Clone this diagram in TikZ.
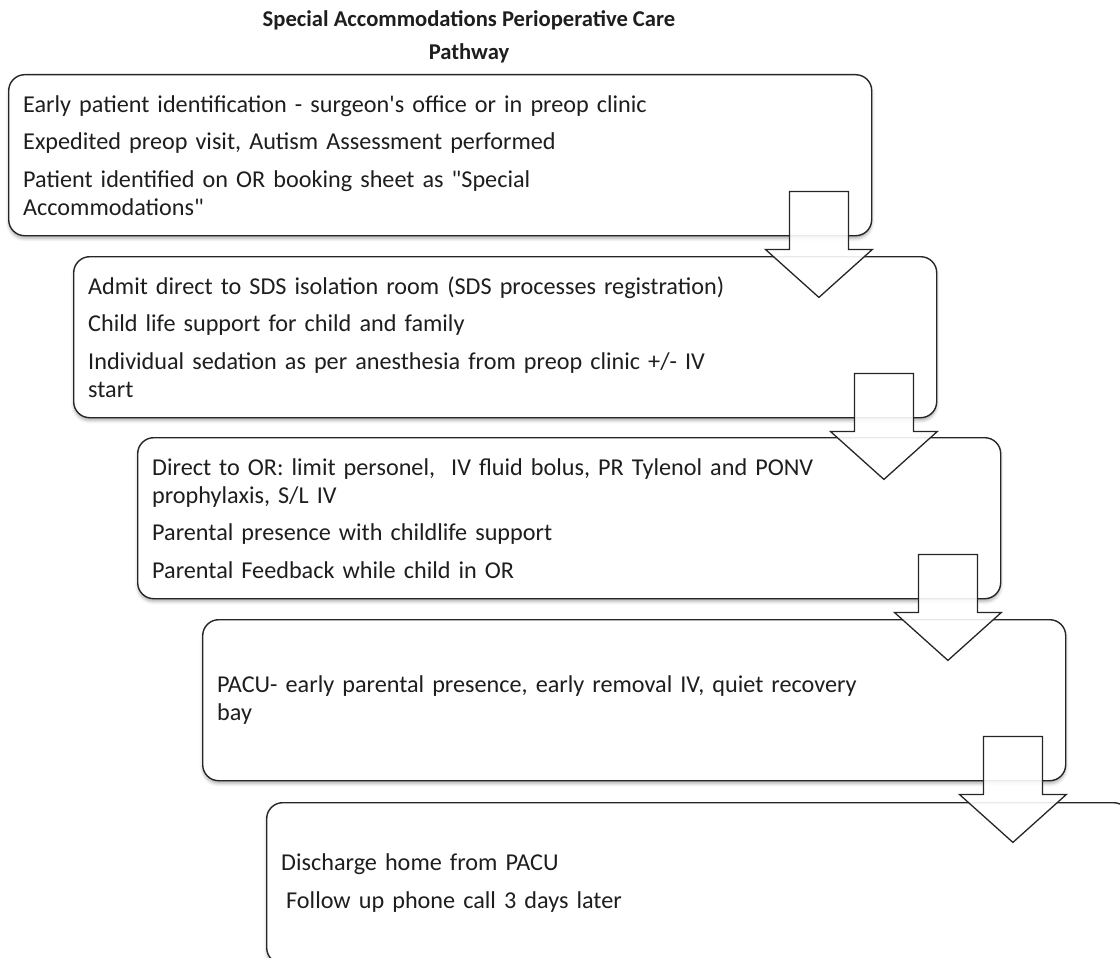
\documentclass[tikz,border=0pt]{standalone}
\usepackage{fontspec}
\setmainfont{Carlito}
\usepackage{tikz}
\usetikzlibrary{positioning, calc, shadows.blur}
\definecolor{boxline}{HTML}{262626}
\definecolor{inktext}{HTML}{1E1E1E}
\newcommand{\straightdq}{\XeTeXglyph\XeTeXcharglyph"22\relax}
\newcommand{\straightsq}{\XeTeXglyph\XeTeXcharglyph"27\relax}

\begin{document}
\begin{tikzpicture}[x=1pt, y=-1pt,
  stagebox/.style={draw=boxline, line width=1.4pt, rounded corners=16pt, fill=white,
    anchor=north west, minimum height=161pt, text width=834pt, inner xsep=14.5pt,
    align=left, text=inktext, font=\fontsize{24.2}{28}\selectfont,
    blur shadow={shadow xshift=0pt, shadow yshift=-3pt, shadow blur radius=3pt, shadow opacity=30}},
  flowarrow/.style={draw=boxline, line width=1.3pt, fill=white, fill opacity=0.9, line join=miter},
  titletext/.style={anchor=base, text=inktext, font=\fontsize{22.6}{33}\selectfont\bfseries}]

  % page
  \clip (0,0) rectangle (1120,958);

  % Title
  \node[titletext] (title) at (469,27) {Special Accommodations Perioperative Care};
  \node[titletext] (titletwo) at ($(title.base)+(0,33)$) {Pathway};

  % Pathway stages
  \node[stagebox] (b1) at (8,74) {Early patient identification - surgeon\straightsq s office or in preop clinic\\[9.5pt]
    Expedited preop visit, Autism Assessment performed\\[9.5pt]
    Patient identified on OR booking sheet as \straightdq Special\\Accommodations\straightdq};
  \node[stagebox] (b2) at (73,256) {Admit direct to SDS isolation room (SDS processes registration)\\[9.5pt]
    Child life support for child and family\\[9.5pt]
    Individual sedation as per anesthesia from preop clinic +/- IV\\start};
  \node[stagebox] (b3) at (137,437) {Direct to OR: limit personel,\ \ IV fluid bolus, PR Tylenol and PONV\\prophylaxis, S/L IV\\[9.5pt]
    Parental presence with childlife support\\[9.5pt]
    Parental Feedback while child in OR};
  \node[stagebox] (b4) at (202,619) {PACU- early parental presence, early removal IV, quiet recovery\\bay};
  \node[stagebox] (b5) at (266,802) {Discharge home from PACU\\[9.5pt]
    \hspace{5pt}Follow up phone call 3 days later};

  % Block arrows between stages
  \foreach \a in {b1,b2,b3,b4} {
    \draw[flowarrow] ($(\a.south east)+(-83,-45)$) -- ++(59,0) -- ++(0,58) -- ++(24,0)
      -- ++(-53.5,48) -- ++(-53.5,-48) -- ++(24,0) -- cycle;
  }
\end{tikzpicture}
\end{document}
